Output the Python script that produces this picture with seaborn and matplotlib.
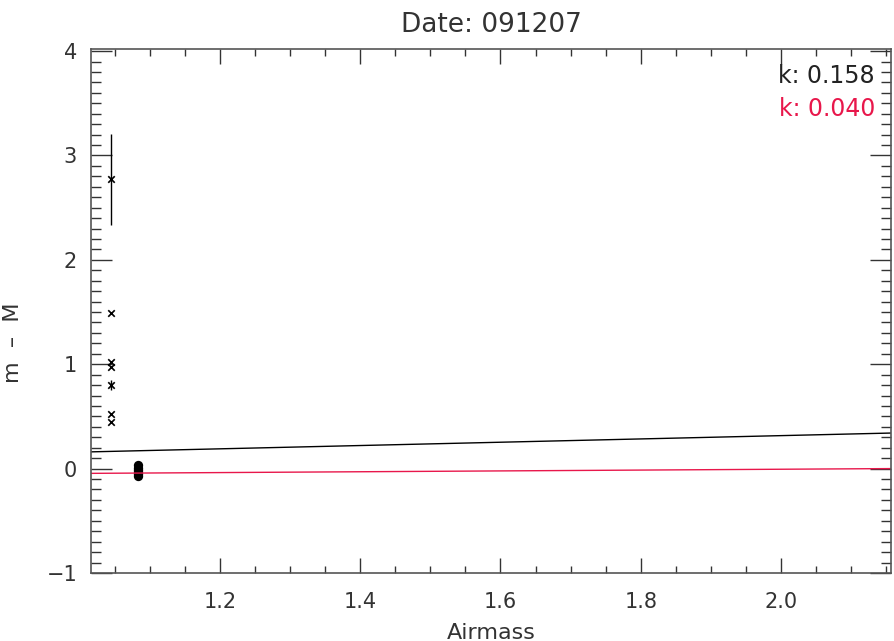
import numpy as np
import pandas as pd
import matplotlib
matplotlib.use("Agg")
import matplotlib.pyplot as plt
import seaborn as sns
from matplotlib.ticker import MultipleLocator

# ---- data ----
star_airmass = [1.045, 1.045, 1.045, 1.045, 1.045, 1.045, 1.045]
star_dm = [2.77, 1.495, 1.025, 0.977, 0.80, 0.523, 0.447]
star_err = [0.44, 0.0, 0.0, 0.0, 0.05, 0.0, 0.0]

std_airmass = [1.0826, 1.0826, 1.0826, 1.0826, 1.0826, 1.0826]
std_dm = [0.03, 0.01, -0.01, -0.03, -0.05, -0.07]

fit_k = [0.158, 0.040]
fit_b = [0.0, -0.086]
fit_colors = ["black", "#e8174b"]
fit_labels = ["k: 0.158", "k: 0.040"]

title = "Date: 091207"
xlabel = "Airmass"
ylabel = "m  \u2013  M"
xlim = (1.016, 2.157)
ylim = (-1.0, 4.02)

sns.set_style("white")
plt.rcParams["font.family"] = ["DejaVu Sans"]

fig = plt.figure(figsize=(8.94, 6.41), dpi=100)
ax = fig.add_axes([91/894, 1-573/641, 800/894, (573-49)/641])

# fit lines
xx = np.array(xlim)
for k, b, c in zip(fit_k, fit_b, fit_colors):
    df = pd.DataFrame({"x": xx, "y": k*xx + b})
    sns.lineplot(data=df, x="x", y="y", color=c, lw=1.0, ax=ax)

# error bars
for x, y, e in zip(star_airmass, star_dm, star_err):
    if e > 0:
        ax.errorbar(x, y, yerr=e, fmt="none", ecolor="black", elinewidth=1.0, capsize=0)

sns.scatterplot(x=star_airmass, y=star_dm, marker="x", color="black", s=22,
                linewidth=1.2, ax=ax)
sns.scatterplot(x=std_airmass, y=std_dm, marker="o", color="black", s=45,
                edgecolor="black", linewidth=0, ax=ax)

ax.set_xlim(*xlim)
ax.set_ylim(*ylim)
ax.xaxis.set_major_locator(MultipleLocator(0.2))
ax.xaxis.set_minor_locator(MultipleLocator(0.05))
ax.yaxis.set_major_locator(MultipleLocator(1))
ax.yaxis.set_minor_locator(MultipleLocator(0.1))
ax.xaxis.set_major_formatter(matplotlib.ticker.FuncFormatter(lambda v, p: f"{v:.1f}"))
ax.yaxis.set_major_formatter(matplotlib.ticker.FuncFormatter(lambda v, p: f"{v:.0f}".replace("-", "\u2212")))

ax.tick_params(which="both", direction="in", top=True, right=True, bottom=True, left=True,
               color="#333333", labelsize=15, labelcolor="#333333", width=1.0)
ax.tick_params(axis="x", which="major", length=11, pad=14)
ax.tick_params(axis="x", which="minor", length=5)
ax.tick_params(axis="y", which="major", length=15, pad=10)
ax.tick_params(axis="y", which="minor", length=7)
for s in ax.spines.values():
    s.set_color("#555555")
    s.set_linewidth(1.2)

ax.set_title(title, fontsize=19, color="#333333", pad=12)
ax.set_xlabel(xlabel, fontsize=16, color="#333333")
ax.xaxis.set_label_coords(0.5, -0.095)
ax.set_ylabel(ylabel, fontsize=16, color="#333333")
ax.yaxis.set_label_coords(-0.085, (573-343)/524)

ax.text(0.98, 0.948, fit_labels[0], transform=ax.transAxes, ha="right", va="center",
        fontsize=17, color="#222222")
ax.text(0.98, 0.885, fit_labels[1], transform=ax.transAxes, ha="right", va="center",
        fontsize=17, color=fit_colors[1])

fig.savefig("out.png", dpi=100)
